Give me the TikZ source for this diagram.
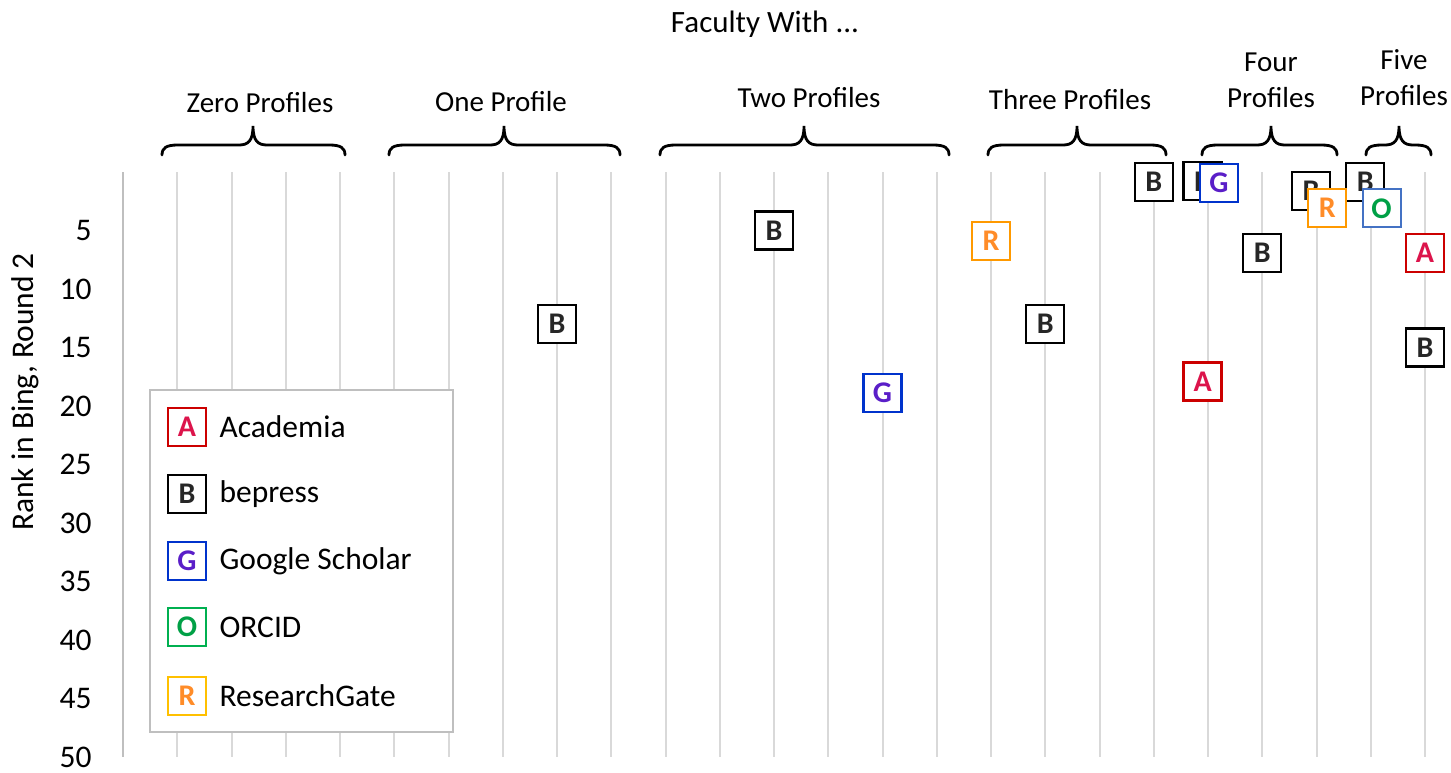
\documentclass[tikz,border=0pt]{standalone}
\usepackage{fontspec}
\setmainfont{Carlito}
\usetikzlibrary{positioning}
\definecolor{gridgray}{RGB}{217,217,217}
\definecolor{axisgray}{RGB}{191,191,191}
\definecolor{acadline}{RGB}{204,0,0}
\definecolor{acadtext}{RGB}{220,20,75}
\definecolor{scholline}{RGB}{0,51,204}
\definecolor{scholtext}{RGB}{90,30,200}
\definecolor{orcidline}{RGB}{0,176,80}
\definecolor{orcidplot}{RGB}{68,114,196}
\definecolor{orcidtext}{RGB}{0,160,70}
\definecolor{rgline}{RGB}{255,192,0}
\definecolor{rgplot}{RGB}{255,153,0}
\definecolor{rgtext}{RGB}{255,140,40}
\tikzset{
    bracepen/.style={line width=2.8pt, line cap=round},
    profbox/.style={
        draw,
        fill=white,
        line width=2.2pt,
        minimum size=38pt,
        inner sep=0pt,
        font=\fontsize{30}{30}\selectfont\bfseries
    },
    acad/.style={profbox, draw=acadline, text=acadtext},
    bep/.style={profbox, draw=black, text=black!85},
    schol/.style={profbox, draw=scholline, text=scholtext},
    orcid/.style={profbox, draw=orcidline, text=orcidtext},
    rg/.style={profbox, draw=rgline, text=rgtext}
}
% curly brace over a group: left end, tip, right end
\newcommand{\groupbrace}[3]{%
    \draw[bracepen] (#1,155) .. controls (#1,148) and (#1+4,145) .. (#1+16,145)
        -- (#2-14,145) .. controls (#2-5,145) and (#2,141) .. (#2,126)
        .. controls (#2,141) and (#2+5,145) .. (#2+14,145)
        -- (#3-16,145) .. controls (#3-4,145) and (#3,148) .. (#3,155);}

\begin{document}
\begin{tikzpicture}[
    x=1pt, y=-1pt,
    every node/.style={font=\fontsize{31.5}{36}\selectfont},
    grouplabel/.style={anchor=base, font=\fontsize{29}{34}\selectfont, align=center}
]
\useasboundingbox (0,0) rectangle (1451,773);

% Grid and axis
\foreach \k in {1,...,24}
    \draw[gridgray, line width=2pt] (123+54.25*\k,172) -- (123+54.25*\k,757);
\draw[axisgray, line width=2pt] (123,172) -- (123,757);
\foreach \r in {5,10,...,50}
    \node[anchor=east] (tick\r) at (95,172+11.7*\r) {\r};
\node[rotate=90] (ytitle) at (25,392) {Rank in Bing, Round 2};

% Headings
\node[grouplabel, font=\fontsize{31}{34}\selectfont] (title) at (765,33) {Faculty With ...};
\node[grouplabel] (zero) at (260,113) {Zero Profiles};
\node[grouplabel] (one) at (501,112) {One Profile};
\node[grouplabel] (two) at (809,108) {Two Profiles};
\node[grouplabel] (three) at (1070,110) {Three Profiles};
\node[grouplabel] (four) at (1271,108) {Profiles};
\node[grouplabel] (fourtop) at (1271,72) {Four};
\node[grouplabel] (five) at (1404,106) {Profiles};
\node[grouplabel] (fivetop) at (1404,70) {Five};
\groupbrace{162}{253}{345}
\groupbrace{389}{504}{620}
\groupbrace{660}{804}{949}
\groupbrace{988}{1077}{1166}
\groupbrace{1202}{1271}{1337}
\groupbrace{1366}{1399}{1431}

% Data points
\begin{scope}[shift={(123,172)}, x=54.25pt, y=-11.7pt]
    \node[bep] (b8) at (8,13) {B};
    \node[bep] (b12) at (12,5) {B};
    \node[bep] (b17) at (17,13) {B};
    \node[bep] (b19) at (19,0.85) {B};
    \node[bep] (b20) at (19.9,0.8) {B};
    \node[bep] (b21) at (21,6.9) {B};
    \node[bep] (b22) at (21.9,1.6) {B};
    \node[bep] (b23) at (22.9,0.85) {B};
    \node[bep] (b24) at (24,15) {B};
    \node[schol] (g14) at (14,18.9) {G};
    \node[schol] (g20) at (20.2,0.95) {G};
    \node[acad] (a20) at (19.9,17.9) {A};
    \node[acad] (a24) at (24,6.9) {A};
    \node[rg, draw=rgplot] (r16) at (16,5.9) {R};
    \node[rg, draw=rgplot] (r22) at (22.2,3.1) {R};
    \node[orcid, draw=orcidplot] (o23) at (23.2,3.1) {O};
\end{scope}

% Legend
\draw[axisgray, fill=white, line width=2pt] (150,390) rectangle (453,732);
\node[acad] (keya) at (187,427) {A};
\node[bep] (keyb) at (187,494) {B};
\node[schol] (keyg) at (187,561) {G};
\node[orcid] (keyo) at (187,627) {O};
\node[rg] (keyr) at (187,696) {R};
\node[anchor=west] (texta) at (216,427) {Academia};
\node[anchor=west] (textb) at (216,494) {bepress};
\node[anchor=west] (textg) at (216,561) {Google Scholar};
\node[anchor=west] (texto) at (216,627) {ORCID};
\node[anchor=west] (textr) at (216,696) {ResearchGate};

\end{tikzpicture}
\end{document}
